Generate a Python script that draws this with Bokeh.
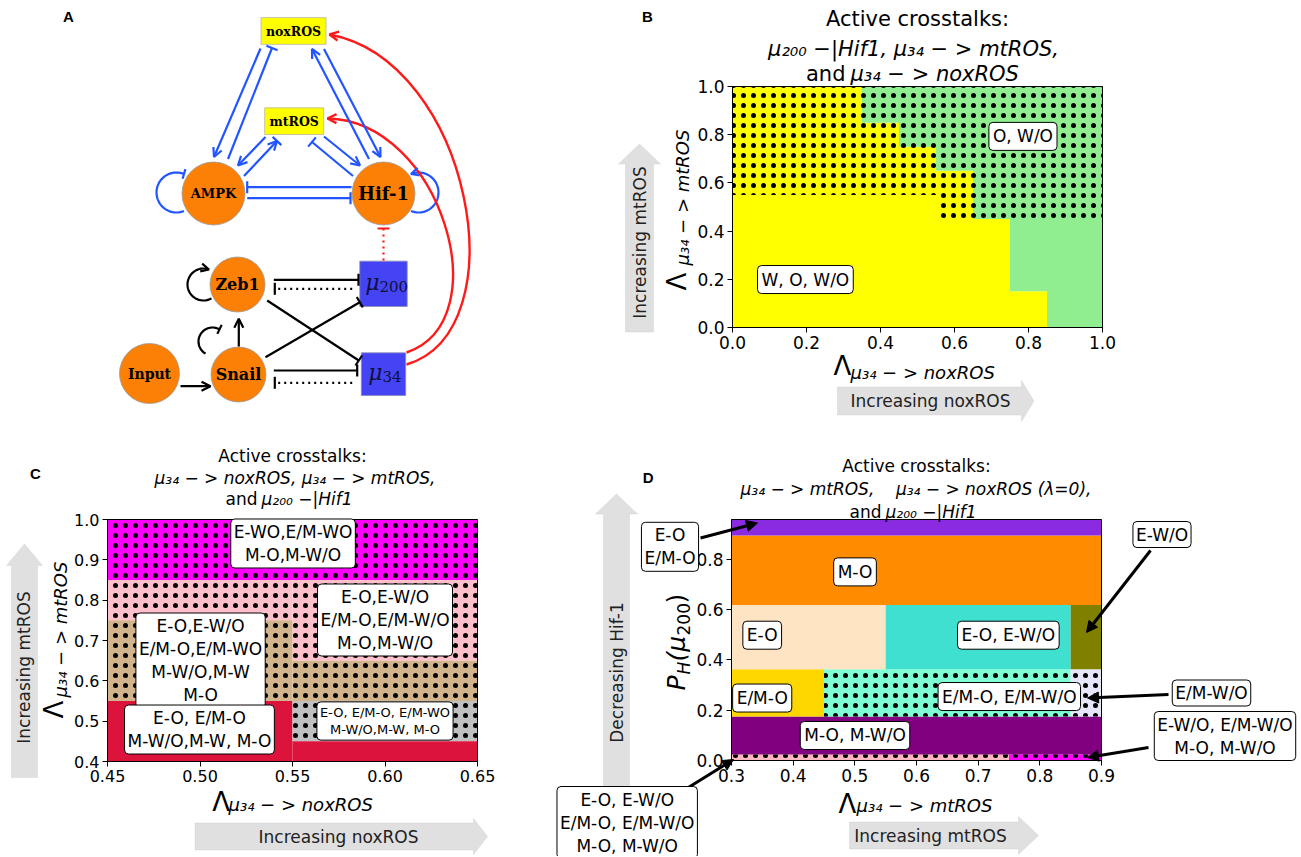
import math
from bokeh.plotting import figure
from bokeh.models import (Range1d, Label, Arrow, OpenHead, TeeHead, NormalHead,
                          PolyAnnotation, FixedTicker, NumeralTickFormatter, LinearAxis)
from bokeh.layouts import row, column
from bokeh.embed import file_html
from bokeh.resources import INLINE
from bokeh.core.properties import value

SANS = "DejaVu Sans"
SERIF = "DejaVu Serif"
NBSP = "\u00a0"

# ------------------------------------------------------------------ data
# Panel B : regions in (Lambda noxROS, Lambda mtROS)
b_x_edges = [0.0, 0.35, 0.45, 0.55, 0.65, 0.75, 0.85, 1.0]
b_yellow_top = [1.0, 0.85, 0.75, 0.65, 0.45, 0.15, 0.0]
b_dot_bottom = [0.55, 0.55, 0.55, 0.45, 0.45, 0.45, 0.45]
b_ticks = [0.0, 0.2, 0.4, 0.6, 0.8, 1.0]
b_labels = ["W, O, W/O", "O, W/O"]
b_label_x = [0.197, 0.785]
b_label_y = [0.199, 0.793]

# Panel C
c_left = [0.45, 0.45, 0.55, 0.45, 0.55, 0.45, 0.55, 0.55]
c_right = [0.65, 0.55, 0.65, 0.55, 0.65, 0.55, 0.65, 0.65]
c_bottom = [0.85, 0.75, 0.65, 0.55, 0.55, 0.40, 0.45, 0.40]
c_top = [1.00, 0.85, 0.85, 0.75, 0.65, 0.55, 0.55, 0.45]
c_colors = ["#ff00ff", "#ffc0cb", "#ffc0cb", "#d2b48c", "#d2b48c", "#dc143c", "#c0c0c0", "#dc143c"]
c_dotted = [True, True, True, True, True, False, True, False]
c_xticks = [0.45, 0.50, 0.55, 0.60, 0.65]
c_yticks = [0.4, 0.5, 0.6, 0.7, 0.8, 0.9, 1.0]
c_labels = ["E-WO,E/M-WO\nM-O,M-W/O",
            "E-O,E-W/O\nE/M-O,E/M-W/O\nM-O,M-W/O",
            "E-O,E-W/O\nE/M-O,E/M-WO\nM-W/O,M-W\nM-O",
            "E-O, E/M-O\nM-W/O,M-W, M-O",
            "E-O, E/M-O, E/M-WO\nM-W/O,M-W, M-O"]
c_label_x = [0.5503, 0.600, 0.5003, 0.4997, 0.600]
c_label_y = [0.9405, 0.7508, 0.6504, 0.4793, 0.5004]
c_label_size = [17, 17, 17, 17, 13]

# Panel D
d_left = [0.30, 0.75, 0.30, 0.30, 0.45, 0.85, 0.30, 0.55, 0.85, 0.30, 0.30]
d_right = [0.75, 0.90, 0.90, 0.45, 0.85, 0.90, 0.55, 0.85, 0.90, 0.90, 0.90]
d_bottom = [0.0, 0.0, 0.024, 0.175, 0.175, 0.175, 0.362, 0.362, 0.362, 0.617, 0.893]
d_top = [0.024, 0.024, 0.175, 0.362, 0.362, 0.362, 0.617, 0.617, 0.617, 0.893, 0.957]
d_colors = ["#ffb6c1", "#ff00ff", "#800080", "#ffd700", "#7fffd4", "#e6e6fa",
            "#ffe4c4", "#40e0d0", "#808000", "#ff8c00", "#8a2be2"]
d_dotted = [True, True, False, False, True, True, False, False, False, False, False]
d_xticks = [0.3, 0.4, 0.5, 0.6, 0.7, 0.8, 0.9]
d_yticks = [0.0, 0.2, 0.4, 0.6, 0.8]
d_labels = ["M-O", "E-O", "E-O, E-W/O", "E/M-O", "E/M-O, E/M-W/O", "M-O, M-W/O"]
d_label_x = [0.5003, 0.3498, 0.7489, 0.3498, 0.7505, 0.5003]
d_label_y = [0.749, 0.4975, 0.4975, 0.248, 0.254, 0.0993]
d_callouts = ["E-O\nE/M-O", "E-W/O", "E/M-W/O",
              "E-W/O, E/M-W/O\nM-O, M-W/O",
              "E-O, E-W/O\nE/M-O, E/M-W/O\nM-O, M-W/O"]

# Panel A : network
a_circle_nodes = ["AMPK", "Hif-1", "Zeb1", "Snail", "Input"]
a_box_nodes = ["noxROS", "mtROS"]
a_mir_nodes = ["200", "34"]


# ------------------------------------------------------------------ helpers
class Conv:
    """maps page pixels to a panel's data coordinates"""
    def __init__(self, fx0, fx1, fyt, fyb, xr, yr):
        self.fx0, self.fx1, self.fyt, self.fyb = fx0, fx1, fyt, fyb
        self.x0, self.x1 = xr
        self.y0, self.y1 = yr

    def X(self, px):
        return self.x0 + (px - self.fx0) / (self.fx1 - self.fx0) * (self.x1 - self.x0)

    def Y(self, py):
        return self.y0 + (self.fyb - py) / (self.fyb - self.fyt) * (self.y1 - self.y0)


def label(p, cv, px, py, s, size, style="normal", font=SANS, align="center",
          baseline="middle", angle=0, color="black", box=False, pad=4, lh=1.2):
    kw = {}
    if box:
        kw = dict(background_fill_color="white", background_fill_alpha=1.0,
                  border_line_color="black", border_line_width=1,
                  padding=pad, border_radius=4)
    p.add_layout(Label(x=cv.X(px), y=cv.Y(py), text=s, text_font=font,
                       text_font_size=f"{size}px", text_font_style=style,
                       text_align=align, text_baseline=baseline, angle=angle,
                       angle_units="deg", text_color=color, text_line_height=lh, **kw))


def data_label(p, x, y, s, size, pad=4, lh=1.2):
    p.add_layout(Label(x=x, y=y, text=s, text_font=SANS, text_font_size=f"{size}px",
                       text_align="center", text_baseline="middle", text_color="black",
                       background_fill_color="white", background_fill_alpha=1.0,
                       border_line_color="black", border_line_width=1,
                       padding=pad, border_radius=4, text_line_height=lh))


GRAY_FILL = "#e0e0e0"
GRAY_LINE = "#c2c2c2"


def block_arrow_h(p, cv, x0, xh, xt, ym, sh, hh):
    xs = [x0, xh, xh, xt, xh, xh, x0]
    ys = [ym - sh / 2, ym - sh / 2, ym - hh / 2, ym, ym + hh / 2, ym + sh / 2, ym + sh / 2]
    p.add_layout(PolyAnnotation(xs=[cv.X(v) for v in xs], ys=[cv.Y(v) for v in ys],
                                fill_color=GRAY_FILL, fill_alpha=1.0,
                                line_color=GRAY_LINE, line_width=1))


def block_arrow_v(p, cv, y0, yh, yt, xm, sw, hw):
    ys = [y0, yh, yh, yt, yh, yh, y0]
    xs = [xm - sw / 2, xm - sw / 2, xm - hw / 2, xm, xm + hw / 2, xm + sw / 2, xm + sw / 2]
    p.add_layout(PolyAnnotation(xs=[cv.X(v) for v in xs], ys=[cv.Y(v) for v in ys],
                                fill_color=GRAY_FILL, fill_alpha=1.0,
                                line_color=GRAY_LINE, line_width=1))


def panel_fig(fig_box, plot_box, xr, yr):
    """figure whose frame is the whole canvas; plot window placed by data ranges"""
    fl, fr, ft, fb = fig_box
    pl, pr, pt, pb_ = plot_box
    cv = Conv(pl, pr, pt, pb_, xr, yr)
    p = figure(width=fr - fl, height=fb - ft,
               x_range=Range1d(cv.X(fl), cv.X(fr)), y_range=Range1d(cv.Y(fb), cv.Y(ft)),
               output_backend="svg", toolbar_location=None, title=None,
               min_border=0, x_axis_location=None, y_axis_location=None)
    p.xgrid.visible = False
    p.ygrid.visible = False
    p.outline_line_color = None
    p.background_fill_color = "white"
    p.border_fill_color = "white"
    return p, cv


def add_axes(p, xr, yr, xticks, yticks, xfmt, yfmt, tick_px):
    xa = LinearAxis(fixed_location=yr[0], bounds=xr, ticker=FixedTicker(ticks=xticks),
                    formatter=NumeralTickFormatter(format=xfmt))
    ya = LinearAxis(fixed_location=xr[0], bounds=yr, ticker=FixedTicker(ticks=yticks),
                    formatter=NumeralTickFormatter(format=yfmt))
    for ax in (xa, ya):
        ax.axis_line_color = "black"
        ax.axis_line_width = 1
        ax.major_tick_line_color = "black"
        ax.major_tick_line_width = 1
        ax.major_tick_in = 0
        ax.major_tick_out = 5
        ax.minor_tick_line_color = None
        ax.major_label_text_font = SANS
        ax.major_label_text_font_size = f"{tick_px}px"
        ax.major_label_text_color = "black"
        ax.major_label_standoff = 3
    p.add_layout(xa, "below")
    p.add_layout(ya, "left")
    p.quad(left=[xr[0]], right=[xr[1]], bottom=[yr[0]], top=[yr[1]], fill_alpha=0,
           line_color="black", line_width=1)


def dots(p, left, right, bottom, top, scale):
    p.quad(left=left, right=right, bottom=bottom, top=top, fill_alpha=0,
           line_color=None, hatch_pattern="dot", hatch_color="black",
           hatch_scale=scale, hatch_weight=2)


HATCH = 10

# ------------------------------------------------------------------ Panel A
pa = figure(width=568, height=440, x_range=Range1d(0, 568), y_range=Range1d(440, 0),
            output_backend="svg", toolbar_location=None, title=None,
            min_border=0, x_axis_location=None, y_axis_location=None)
pa.xgrid.visible = False
pa.ygrid.visible = False
pa.outline_line_color = None
pa.background_fill_color = "white"
pa.border_fill_color = "white"
ident = Conv(0, 568, 0, 440, (0, 568), (440, 0))

BLUE = "#2255ff"
RED = "#ff1a1a"
BLK = "black"


def a_edge(x0, y0, x1, y1, color, heads, dash="solid", w=2.2):
    first = True
    for h in heads:
        if h == "open":
            head = OpenHead(size=9, line_color=color, line_width=w)
        else:
            head = TeeHead(size=12, line_color=color, line_width=w)
        pa.add_layout(Arrow(end=head, x_start=x0, y_start=y0, x_end=x1, y_end=y1,
                            line_color=color, line_width=w, line_dash=dash,
                            line_alpha=1.0 if first else 0.0))
        first = False


def a_loop(cx, cy, r, th0, th1, color, head, w=2.2):
    n = 40
    xs, ys = [], []
    for i in range(n + 1):
        th = math.radians(th0 + (th1 - th0) * i / n)
        xs.append(cx + r * math.cos(th))
        ys.append(cy + r * math.sin(th))
    pa.line(xs, ys, line_color=color, line_width=w)
    h = OpenHead(size=8, line_color=color, line_width=w) if head == "open" else \
        TeeHead(size=10, line_color=color, line_width=w)
    pa.add_layout(Arrow(end=h, x_start=xs[-3], y_start=ys[-3], x_end=xs[-1], y_end=ys[-1],
                        line_alpha=0.0))


def a_curve(p0, p1, p2, p3, color, w=2.4):
    pa.bezier(x0=[p0[0]], y0=[p0[1]], x1=[p3[0]], y1=[p3[1]],
              cx0=[p1[0]], cy0=[p1[1]], cx1=[p2[0]], cy1=[p2[1]],
              line_color=color, line_width=w)
    dx, dy = p3[0] - p2[0], p3[1] - p2[1]
    L = math.hypot(dx, dy)
    pa.add_layout(Arrow(end=OpenHead(size=9, line_color=color, line_width=w),
                        x_start=p3[0] - 6 * dx / L, y_start=p3[1] - 6 * dy / L,
                        x_end=p3[0], y_end=p3[1], line_alpha=0.0))


# blue metabolic edges
a_edge(260, 48, 213.5, 156.5, BLUE, ["open"])
a_edge(227.5, 158.5, 271.5, 47.5, BLUE, ["tee"])
a_edge(368.5, 158.5, 311.5, 48.5, BLUE, ["open"])
a_edge(323.5, 48.5, 380, 156.5, BLUE, ["open"])
a_edge(265, 136.5, 237.5, 165, BLUE, ["open"])
a_edge(243.5, 175.5, 276.5, 140.5, BLUE, ["open", "tee"])
a_edge(352.5, 175.5, 311.5, 141.5, BLUE, ["tee"])
a_edge(323.5, 136, 359.5, 165, BLUE, ["open"])
a_edge(351, 186.7, 246.7, 186.7, BLUE, ["tee"])
a_edge(246.7, 197.7, 350, 197.7, BLUE, ["tee"])
a_loop(176, 192, 20, 68, 292, BLUE, "tee")
a_loop(418, 192, 20, 112, -112, BLUE, "open")

# black EMT edges
a_edge(273.3, 279.3, 358, 279.3, BLK, ["tee"])
a_edge(351.7, 288.3, 274.3, 288.3, BLK, ["tee"], dash="dotted")
a_edge(273.3, 370, 356.7, 370, BLK, ["tee"])
a_edge(351.7, 382.3, 274.3, 382.3, BLK, ["tee"], dash="dotted")
a_edge(266.7, 300, 358.3, 360, BLK, ["tee"])
a_edge(265, 356.7, 359.3, 301.7, BLK, ["tee"])
a_edge(180, 385.7, 210, 385.7, BLK, ["open"])
a_edge(238.3, 346, 238.3, 318.3, BLK, ["open"])
a_loop(203, 284, 16, 60, 290, BLK, "open")
a_loop(212, 341, 14, 120, 300, BLK, "tee")

# red crosstalk edges
a_edge(383, 260, 383, 228, RED, ["tee"], dash="dotted")
a_curve((406, 364), (520, 330), (470, 60), (329, 34), RED)
a_curve((406, 352), (500, 320), (440, 120), (327, 118), RED)

# nodes
circ_x = [213, 383, 237, 238, 149]
circ_y = [193, 193, 284, 374, 373]
circ_r = [31.5, 31.5, 27.5, 27.5, 30]
pa.circle(x=circ_x, y=circ_y, radius=circ_r, fill_color="#fb8005",
          line_color="#9a9a9a", line_width=0.8)
circ_size = ["13px", "18px", "16px", "16px", "14px"]
for name, x, y, s in zip(a_circle_nodes, circ_x, circ_y, circ_size):
    pa.text(x=[x], y=[y], text=[name], text_font=value(SERIF), text_font_style="bold",
            text_font_size=s, text_align="center", text_baseline="middle",
            text_color="black")

pa.rect(x=[293, 293.7], y=[30.5, 120.7], width=[65, 59], height=[26.7, 26.7],
        fill_color="#ffff00", line_color="#b5b59a", line_width=0.8)
for name, x, y in zip(a_box_nodes, [293, 293.7], [31, 121]):
    pa.text(x=[x], y=[y], text=[name], text_font=value(SERIF), text_font_style="bold",
            text_font_size="12.5px", text_align="center", text_baseline="middle",
            text_color="black")

pa.rect(x=[383, 383], y=[283.3, 373.7], width=[47.4, 44.3], height=[45.3, 42.7],
        fill_color="#4444f4", line_color="#8a8ab0", line_width=0.8)
for sub, x, y in zip(a_mir_nodes, [372, 375], [282, 372]):
    pa.text(x=[x], y=[y], text=["μ"], text_font=value(SERIF), text_font_style="italic",
            text_font_size="22px", text_align="center", text_baseline="middle",
            text_color="#10103a")
    pa.text(x=[x + 7], y=[y + 4], text=[sub], text_font=value(SERIF),
            text_font_size="15px", text_align="left", text_baseline="middle",
            text_color="#10103a")

label(pa, ident, 68, 16, "A", 15, style="bold", font="Liberation Sans")

# ------------------------------------------------------------------ Panel B
pb, cb = panel_fig((568, 1300, 0, 440), (732, 1102, 86, 327), (0, 1), (0, 1))
b_left = b_x_edges[:-1]
b_right = b_x_edges[1:]
pb.quad(left=b_left, right=b_right, bottom=[0.0] * len(b_left), top=b_yellow_top,
        fill_color="#ffff00", line_color=None)
pb.quad(left=b_left, right=b_right, bottom=b_yellow_top, top=[1.0] * len(b_left),
        fill_color="#90ee90", line_color=None)
dots(pb, b_left, b_right, b_dot_bottom, [1.0] * len(b_left), HATCH)
add_axes(pb, (0, 1), (0, 1), b_ticks, b_ticks, "0.0", "0.0", 17)
for s, x, y in zip(b_labels, b_label_x, b_label_y):
    data_label(pb, x, y, s, 17)

label(pb, cb, 917, 18, "Active crosstalks:", 21)
label(pb, cb, 913, 48, "μ₂₀₀ −|Hif1, μ₃₄ − > mtROS,", 21, style="italic")
label(pb, cb, 845, 73, "and", 21, align="right")
label(pb, cb, 850, 73, "μ₃₄ − > noxROS", 21, style="italic", align="left")
label(pb, cb, 833, 365, "Λ", 26, align="left")
label(pb, cb, 850, 372, "μ₃₄ − > noxROS", 18, style="italic", align="left")
label(pb, cb, 676, 290, "Λ", 26, align="left", angle=90)
label(pb, cb, 682, 265, "μ₃₄ − > mtROS", 18, style="italic", align="left", angle=90)
block_arrow_h(pb, cb, 837, 1021, 1033.5, 400.5, 28, 41)
label(pb, cb, 930, 400, "Increasing noxROS", 17, color="#222222")
block_arrow_v(pb, cb, 331.5, 163.5, 143.5, 639, 28, 42)
label(pb, cb, 639, 242, "Increasing mtROS", 17, color="#222222", angle=90)
label(pb, cb, 647, 16, "B", 15, style="bold", font="Liberation Sans")

# ------------------------------------------------------------------ Panel C
pc, cc = panel_fig((0, 540, 440, 856), (107, 477, 519, 761), (0.45, 0.65), (0.4, 1.0))
pc.quad(left=c_left, right=c_right, bottom=c_bottom, top=c_top, fill_color=c_colors,
        line_color=None)
idx = [i for i, d in enumerate(c_dotted) if d]
dots(pc, [c_left[i] for i in idx], [c_right[i] for i in idx],
     [c_bottom[i] for i in idx], [c_top[i] for i in idx], HATCH)
add_axes(pc, (0.45, 0.65), (0.4, 1.0), c_xticks, c_yticks, "0.00", "0.0", 16)
for s, x, y, fs in zip(c_labels, c_label_x, c_label_y, c_label_size):
    data_label(pc, x, y, s, fs, pad=3, lh=1.15)

label(pc, cc, 292, 455, "Active crosstalks:", 17)
label(pc, cc, 294.5, 477, "μ₃₄ − > noxROS, μ₃₄ − > mtROS,", 17, style="italic")
label(pc, cc, 257, 498, "and", 17, align="right")
label(pc, cc, 261, 498, "μ₂₀₀ −|Hif1", 17, style="italic", align="left")
label(pc, cc, 211.7, 801, "Λ", 26, align="left")
label(pc, cc, 228, 804, "μ₃₄ − > noxROS", 18, style="italic", align="left")
label(pc, cc, 53, 718, "Λ", 26, align="left", angle=90)
label(pc, cc, 60, 697, "μ₃₄ − > mtROS", 18, style="italic", align="left", angle=90)
block_arrow_h(pc, cc, 194.5, 473, 487, 836, 27, 36)
label(pc, cc, 338, 836, "Increasing noxROS", 17, color="#222222")
block_arrow_v(pc, cc, 777, 565, 543.5, 24, 26, 36)
label(pc, cc, 23, 667, "Increasing mtROS", 17, color="#222222", angle=90)
label(pc, cc, 35, 473, "C", 15, style="bold", font="Liberation Sans")

# ------------------------------------------------------------------ Panel D
pd, cd = panel_fig((540, 1300, 440, 856), (731, 1101, 519, 760), (0.3, 0.9), (0.0, 0.957))
pd.quad(left=d_left, right=d_right, bottom=d_bottom, top=d_top, fill_color=d_colors,
        line_color=None)
idx = [i for i, d in enumerate(d_dotted) if d]
dots(pd, [d_left[i] for i in idx], [d_right[i] for i in idx],
     [d_bottom[i] for i in idx], [d_top[i] for i in idx], HATCH)
add_axes(pd, (0.3, 0.9), (0.0, 0.957), d_xticks, d_yticks, "0.0", "0.0", 17)
for s, x, y in zip(d_labels, d_label_x, d_label_y):
    data_label(pd, x, y, s, 17)

label(pd, cd, 916, 465, "Active crosstalks:", 17)
label(pd, cd, 915.5, 488,
      "μ₃₄ − > mtROS," + NBSP * 4 + "μ₃₄ − > noxROS (λ=0),", 17, style="italic")
label(pd, cd, 881, 511, "and", 17, align="right")
label(pd, cd, 885, 511, "μ₂₀₀ −|Hif1", 17, style="italic", align="left")
label(pd, cd, 838, 803, "Λ", 26, align="left")
label(pd, cd, 856, 805, "μ₃₄ − > mtROS", 18, style="italic", align="left")
# P_H(mu_200)
label(pd, cd, 676, 690, "P", 25, style="italic", align="left", angle=90)
label(pd, cd, 683, 674, "H", 17, style="italic", align="left", angle=90)
label(pd, cd, 676, 661, "(μ", 25, style="italic", align="left", angle=90)
label(pd, cd, 683, 635, "200", 17, align="left", angle=90)
label(pd, cd, 676, 603, ")", 25, align="left", angle=90)

block_arrow_h(pd, cd, 849, 1018, 1038, 835, 27, 38)
label(pd, cd, 930, 835, "Increasing mtROS", 17, color="#222222")
block_arrow_v(pd, cd, 792, 513.5, 493.5, 616, 26, 42)
label(pd, cd, 616, 672, "Decreasing Hif-1", 17, color="#222222", angle=90)

call_arrows = [((700, 537.5), (757, 522.5)),
               ((1150, 550), (1086, 632)),
               ((1168, 694), (1087, 697.5)),
               ((1148, 747), (1087, 757)),
               ((683, 790), (733, 759))]
for (s, e) in call_arrows:
    pd.add_layout(Arrow(end=NormalHead(size=11, fill_color="black", line_color="black",
                                       line_width=1),
                        x_start=cd.X(s[0]), y_start=cd.Y(s[1]),
                        x_end=cd.X(e[0]), y_end=cd.Y(e[1]),
                        line_color="black", line_width=3))
call_pos = [(669.5, 546.3), (1161.5, 534), (1211, 692.5), (1224.5, 735.5), (626.7, 822)]
for s, (x, y) in zip(d_callouts, call_pos):
    label(pd, cd, x, y, s, 17, box=True, pad=3, lh=1.15)
label(pd, cd, 647.6, 477, "D", 15, style="bold", font="Liberation Sans")

# ------------------------------------------------------------------ layout
layout = column(row(pa, pb), row(pc, pd))
open("out.html", "w").write(file_html(layout, INLINE))
